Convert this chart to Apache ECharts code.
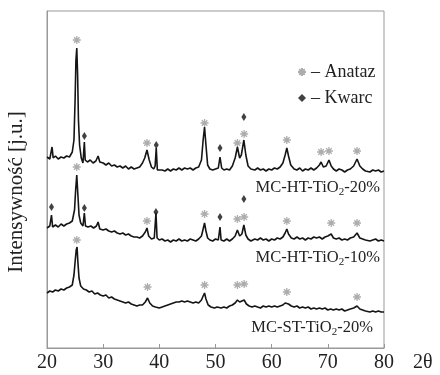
<!DOCTYPE html>
<html>
<head>
<meta charset="utf-8">
<script src="https://cdn.jsdelivr.net/npm/echarts@6/dist/echarts.min.js"></script>
<style>html,body{margin:0;padding:0;background:#fff;}#c{width:440px;height:375px;}</style>
</head>
<body>
<div id="c"></div>
<script>
// x tick labels (2θ)
const xTicks = [20, 30, 40, 50, 60, 70, 80];

// Traces: [2θ, intensity (arbitrary units, already offset)]
const ht20 = [[20,191],[20.5,189],[20.9,201],[21.1,190],[21.5,192],[22,189],[22.5,191],[23,190],[23.5,192],[24,191],[24.5,196],[24.8,208],[25,248],[25.15,288],[25.3,300],[25.45,273],[25.6,228],[25.8,203],[26.1,190],[26.4,185],[26.65,206],[26.8,188],[27.2,186],[27.7,188],[28.2,185],[28.7,187],[29.1,192],[29.4,186],[30,185],[30.5,183],[31,185],[31.5,182],[32,183],[32.5,181],[33,182],[33.5,180],[34,182],[34.5,179],[35,181],[35.5,179],[36,180],[36.5,181],[37,185],[37.4,190],[37.8,198],[38.2,188],[38.6,181],[39,179],[39.25,182],[39.45,200],[39.65,178],[40,176],[40.5,178],[41,177],[41.5,179],[42,177],[42.5,179],[43,178],[43.5,180],[44,178],[44.5,180],[45,179],[45.5,180],[46,178],[46.5,180],[47,181],[47.5,188],[47.8,208],[48.05,221],[48.3,203],[48.6,183],[49,179],[49.5,178],[50,179],[50.5,180],[50.8,191],[51.1,180],[51.5,178],[52,179],[52.5,178],[53,182],[53.5,190],[53.9,201],[54.3,190],[54.6,193],[55.05,208],[55.4,193],[55.8,182],[56.3,179],[57,178],[57.5,180],[58,178],[58.5,179],[59,177],[59.5,179],[60,178],[60.5,180],[61,179],[61.5,181],[62,185],[62.4,193],[62.7,200],[63,192],[63.4,183],[64,179],[64.5,178],[65,180],[65.5,177],[66,179],[66.5,178],[67,180],[67.5,178],[68,180],[68.5,183],[68.8,186],[69.2,181],[69.7,182],[70.2,188],[70.6,182],[71,179],[71.5,177],[72,179],[72.5,178],[73,176],[73.5,178],[74,179],[74.6,182],[75.2,189],[75.7,182],[76.2,179],[76.7,177],[77,179],[77.5,176],[78,178],[78.5,177],[79,178],[79.5,176],[80,177]];

const ht10 = [[20,120],[20.5,122],[20.8,133],[21,121],[21.5,123],[22,121],[22.5,124],[23,122],[23.5,124],[24,125],[24.5,127],[24.9,138],[25.1,158],[25.3,173],[25.5,153],[25.7,133],[26,125],[26.4,122],[26.65,135],[26.85,122],[27.3,121],[27.8,122],[28.3,120],[28.8,122],[29.1,126],[29.4,119],[30,118],[30.5,119],[31,117],[31.5,116],[32,117],[32.5,115],[33,114],[33.5,115],[34,113],[34.5,114],[35,112],[35.5,111],[36,111],[36.5,110],[37,112],[37.5,116],[37.8,120],[38.1,112],[38.6,109],[39.1,110],[39.4,135],[39.6,110],[40,108],[40.5,109],[41,107],[41.5,108],[42,106],[42.5,108],[43,107],[43.5,109],[44,107],[44.5,108],[45,107],[45.5,109],[46,108],[46.5,107],[47,109],[47.5,112],[47.8,119],[48.05,125],[48.3,117],[48.6,110],[49,108],[49.5,107],[50,109],[50.5,108],[50.8,121],[51,108],[51.5,107],[52,109],[52.5,107],[53,109],[53.5,112],[53.9,118],[54.3,112],[54.7,114],[55.05,123],[55.4,113],[55.8,109],[56.3,107],[57,109],[57.5,108],[58,110],[58.5,108],[59,109],[59.5,107],[60,109],[60.5,108],[61,110],[61.5,109],[62,111],[62.4,115],[62.7,119],[63,114],[63.5,110],[64,109],[64.5,111],[65,109],[65.5,110],[66,108],[66.5,110],[67,109],[67.5,111],[68,110],[68.5,111],[69,109],[69.5,111],[70,112],[70.6,114],[71,110],[71.5,109],[72,110],[72.5,108],[73,109],[73.5,108],[74,110],[74.6,111],[75.2,115],[75.7,110],[76.2,109],[76.7,108],[77,109],[77.5,107],[78,108],[78.5,109],[79,107],[79.5,108],[80,107]];

const st20 = [[20,55],[20.5,57],[21,56],[21.5,58],[22,57],[22.5,59],[23,58],[23.5,60],[24,61],[24.5,63],[24.8,73],[25,86],[25.2,98],[25.35,101],[25.5,86],[25.7,70],[26,62],[26.5,59],[27,58],[27.5,56],[28,57],[28.5,54],[29,55],[29.5,53],[30,52],[30.5,53],[31,50],[31.5,51],[32,49],[32.5,48],[33,47],[33.5,46],[34,45],[34.5,46],[35,44],[35.5,43],[36,42],[36.5,43],[37,43],[37.5,46],[37.9,50],[38.3,45],[38.8,42],[39.3,41],[40,40],[40.5,41],[41,42],[41.5,43],[42,44],[42.5,45],[43,46],[43.5,46],[44,47],[44.5,46],[45,47],[45.5,46],[46,45],[46.5,46],[47,45],[47.5,48],[47.8,52],[48.05,55],[48.3,49],[48.7,43],[49.2,41],[49.8,40],[50.3,41],[51,40],[51.5,41],[52,40],[52.5,42],[53,43],[53.5,45],[53.9,48],[54.3,46],[54.7,47],[55.1,48],[55.5,44],[56,42],[56.5,41],[57,42],[57.5,41],[58,40],[58.5,42],[59,41],[59.5,42],[60,41],[60.5,42],[61,41],[61.5,42],[62,43],[62.4,45],[62.7,46],[63,44],[63.5,42],[64,41],[64.5,42],[65,40],[65.5,41],[66,40],[66.5,41],[67,39],[67.5,40],[68,39],[68.5,40],[69,39],[69.5,40],[70,38],[70.5,39],[71,38],[71.5,39],[72,38],[72.5,39],[73,37],[73.5,38],[74,39],[74.6,40],[75.2,42],[75.7,39],[76.2,38],[76.7,37],[77,38],[77.5,36],[78,37],[78.5,36],[79,37],[79.5,36],[80,36]];

// Phase markers [2θ, intensity]
const anatazMarks = [[25.3,308],[37.8,205],[48.05,225],[53.9,205],[55.1,214],[62.7,208],[68.8,196],[70.2,197],[75.2,197],
  [25.3,181],[37.8,127],[48.05,134],[53.9,129],[55.1,131],[62.7,127],[70.6,125],[75.2,125],
  [25.3,108],[37.9,61],[48.05,63],[53.9,63],[55.1,64],[62.7,56],[75.2,51]];
const kwarcMarks = [[26.65,212],[39.45,203],[50.8,200],[55.05,231],
  [20.8,141],[26.65,140],[39.4,136],[50.8,131],[55.05,149]];

const sampleNames = ['MC-HT-TiO', 'MC-HT-TiO', 'MC-ST-TiO'];
const sampleSuffix = ['-20%', '-10%', '-20%'];
const legendNames = ['– Anataz', '– Kwarc'];
const yName = 'Intensywność [j.u.]';
const xName = '2θ';

const FONT = 'Liberation Serif';
const chart = echarts.init(document.getElementById('c'));
const asterisk = 'path://M0,-5L0,5M-5,0L5,0M-3.5,-3.5L3.5,3.5M-3.5,3.5L3.5,-3.5';
const lineStyle = {color: '#151515', width: 1.6};

function sampleLabel(i, x, y) {
  return {
    type: 'text', x: x, y: y, silent: true,
    style: {
      text: '{a|' + sampleNames[i] + '}{b|2}{a|' + sampleSuffix[i] + '}',
      textAlign: 'right', textVerticalAlign: 'middle',
      rich: {
        a: {fontFamily: FONT, fontSize: 16.5, fill: '#222', lineHeight: 20},
        b: {fontFamily: FONT, fontSize: 11, fill: '#222', lineHeight: 12, verticalAlign: 'bottom', padding: [8, 0, 0, 0]}
      }
    }
  };
}

chart.setOption({
  animation: false,
  grid: {left: 47, right: 56, top: 11, bottom: 27, show: true, borderColor: '#999', borderWidth: 1},
  xAxis: {
    type: 'value', min: xTicks[0], max: xTicks[xTicks.length - 1], interval: 10,
    axisLine: {show: true, lineStyle: {color: '#999'}},
    axisTick: {show: true, inside: true, length: 4, lineStyle: {color: '#999'}},
    axisLabel: {fontFamily: FONT, fontSize: 20, color: '#222', margin: 5,
      formatter: v => xTicks.indexOf(v) >= 0 ? String(v) : ''},
    splitLine: {show: false}
  },
  yAxis: {
    type: 'value', min: 0, max: 337,
    axisLine: {show: true, lineStyle: {color: '#999'}},
    axisTick: {show: false}, axisLabel: {show: false}, splitLine: {show: false}
  },
  legend: {
    data: legendNames, orient: 'vertical', left: 297, top: 63,
    itemWidth: 8, itemHeight: 8, itemGap: 8, padding: 0,
    textStyle: {fontFamily: FONT, fontSize: 18, color: '#222'},
    selectedMode: false
  },
  series: [
    {type: 'line', data: ht20, showSymbol: false, symbol: 'none', lineStyle: lineStyle, silent: true},
    {type: 'line', data: ht10, showSymbol: false, symbol: 'none', lineStyle: lineStyle, silent: true},
    {type: 'line', data: st20, showSymbol: false, symbol: 'none', lineStyle: lineStyle, silent: true},
    {name: legendNames[0], type: 'scatter', data: anatazMarks, symbol: asterisk, symbolSize: 8,
      itemStyle: {color: 'rgba(0,0,0,0)', borderColor: '#999', borderWidth: 1.3}, silent: true},
    {name: legendNames[1], type: 'scatter', data: kwarcMarks, symbol: 'diamond', symbolSize: [5, 8],
      itemStyle: {color: '#111'}, silent: true}
  ],
  graphic: [
    {type: 'text', x: 16, y: 192, rotation: Math.PI / 2, silent: true,
      style: {text: yName, fontFamily: FONT, fontSize: 21, fill: '#222', textAlign: 'center', textVerticalAlign: 'middle'}},
    sampleLabel(0, 380, 188),
    sampleLabel(1, 380, 258),
    sampleLabel(2, 373, 328),
    {type: 'text', x: 413, y: 363, silent: true,
      style: {text: xName, fontFamily: FONT, fontSize: 20, fill: '#222', textVerticalAlign: 'middle'}}
  ]
});
</script>
</body>
</html>
